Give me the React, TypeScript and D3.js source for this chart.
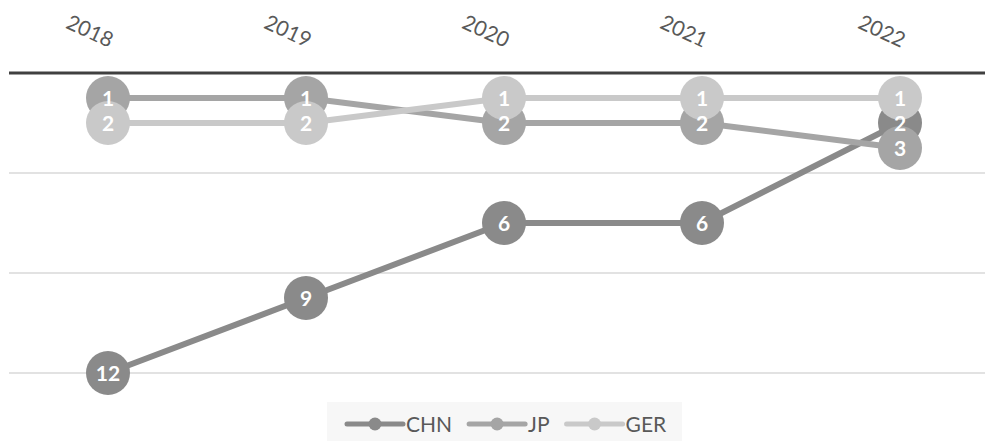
import React from "react";
import * as d3 from "d3";

const years = ["2018", "2019", "2020", "2021", "2022"];
const seriesNames = ["CHN", "JP", "GER"];
const chnRanks = [12, 9, 6, 6, 2];
const jpRanks = [1, 1, 2, 2, 3];
const gerRanks = [2, 2, 1, 1, 1];
const rankTicks = [0, 4, 8, 12];
const seriesColors = ["#8a8a8a", "#a5a5a5", "#c9c9c9"];

const W = 985;
const H = 441;
const FONT = "Lato, 'Open Sans', sans-serif";

function measure(text: string, font: string): number {
  const c = document.createElement("canvas");
  const ctx = c.getContext("2d");
  if (!ctx) return text.length * 10;
  ctx.font = font;
  return ctx.measureText(text).width;
}

export default function App() {
  const series = [
    { name: seriesNames[0], values: chnRanks, color: seriesColors[0] },
    { name: seriesNames[1], values: jpRanks, color: seriesColors[1] },
    { name: seriesNames[2], values: gerRanks, color: seriesColors[2] },
  ];

  const x = d3.scaleBand<string>().domain(years).range([9, 999]).padding(0);
  const cx = (yr: string) => (x(yr) ?? 0) + x.bandwidth() / 2;
  const y = d3.scaleLinear().domain([0, 12]).range([73, 373]);

  const line = d3
    .line<number>()
    .x((_, i) => cx(years[i]))
    .y((d) => y(d));

  // legend layout
  const legendSize = 21;
  const legendFont = `${legendSize}px Lato`;
  const lineLen = 56;
  const textGap = 3;
  const itemGap = 17;
  let lx = 347;
  const legendItems = series.map((s) => {
    const w = measure(s.name, legendFont);
    const item = { ...s, x: lx, w };
    lx += lineLen + textGap + w + itemGap;
    return item;
  });

  return (
    <svg
      width={W}
      height={H}
      style={{ position: "fixed", left: 0, top: 0, background: "#fff" }}
      fontFamily={FONT}
    >
      {/* gridlines */}
      {rankTicks.map((t) =>
        t === 0 ? null : (
          <line
            key={t}
            x1={9}
            x2={W}
            y1={y(t)}
            y2={y(t)}
            stroke="#d9d9d9"
            strokeWidth={1.3}
          />
        )
      )}
      {/* top axis */}
      <line x1={9} x2={W} y1={y(0)} y2={y(0)} stroke="#404040" strokeWidth={3} />
      {years.map((yr) => (
        <text
          key={yr}
          transform={`translate(${cx(yr) + 1},48) rotate(25)`}
          textAnchor="end"
          fontSize={21}
          fill="#595959"
        >
          {yr}
        </text>
      ))}

      {/* series lines and markers */}
      {series.map((s) => (
        <g key={s.name}>
          <path d={line(s.values) ?? ""} fill="none" stroke={s.color} strokeWidth={6} />
          {s.values.map((v, i) => (
            <circle key={i} cx={cx(years[i])} cy={y(v)} r={22} fill={s.color} />
          ))}
        </g>
      ))}
      {/* labels */}
      {series.map((s) =>
        s.values.map((v, i) => (
          <text
            key={s.name + i}
            x={cx(years[i])}
            y={y(v)}
            dy="0.36em"
            textAnchor="middle"
            fontSize={21}
            fontWeight="bold"
            fill="#ffffff"
          >
            {v}
          </text>
        ))
      )}

      {/* legend */}
      <rect x={327} y={402} width={355} height={40} fill="#f7f7f7" />
      {legendItems.map((it) => (
        <g key={it.name}>
          <line
            x1={it.x}
            x2={it.x + lineLen}
            y1={424}
            y2={424}
            stroke={it.color}
            strokeWidth={5}
            strokeLinecap="round"
          />
          <circle cx={it.x + lineLen / 2} cy={424} r={6.5} fill={it.color} />
          <text x={it.x + lineLen + textGap} y={432} fontSize={legendSize} fill="#595959">
            {it.name}
          </text>
        </g>
      ))}
    </svg>
  );
}
